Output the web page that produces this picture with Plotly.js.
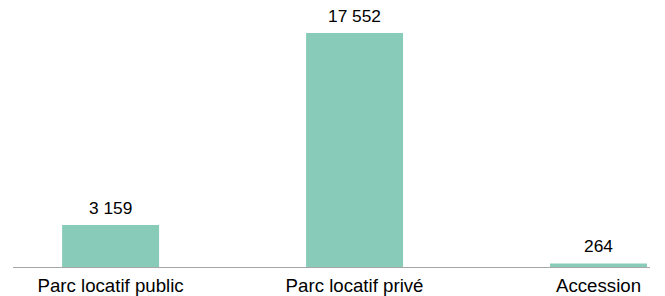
<!DOCTYPE html>
<html>
<head>
<meta charset="utf-8">
<script src="https://cdn.plot.ly/plotly-3.0.1.min.js"></script>
<style>html,body{margin:0;padding:0;background:#fff;}#chart{width:665px;height:296px;}</style>
</head>
<body>
<div id="chart"></div>
<script>
const categories = ["Parc locatif public", "Parc locatif privé", "Accession"];
const values = [3159, 17552, 264];
const valueLabels = ["3 159", "17 552", "264"];

const barColor = "#89cbb9";
const font = "Arial, 'Liberation Sans', sans-serif";

const trace = {
  type: "bar",
  x: categories,
  y: values,
  marker: {color: barColor},
  hoverinfo: "none"
};

const annotations = categories.map((c, i) => ({
  x: c, y: values[i], xref: "x", yref: "y",
  text: valueLabels[i], showarrow: false,
  yanchor: "bottom", yshift: 5,
  font: {family: font, size: 17.33, color: "#000"}
}));

const layout = {
  width: 665, height: 296,
  margin: {l: 13, r: 15, t: 0, b: 29, pad: 0},
  paper_bgcolor: "#fff", plot_bgcolor: "#fff",
  showlegend: false,
  bargap: 0.6025,
  xaxis: {
    type: "category",
    range: [-0.4, 2.211],
    showline: true, linecolor: "#a6a6a6", linewidth: 1,
    showgrid: false, zeroline: false,
    ticks: "",
    ticklabelstandoff: 2,
    tickfont: {family: font, size: 18.67, color: "#000"},
    fixedrange: true
  },
  yaxis: {
    range: [0, 20028],
    visible: false,
    showgrid: false, zeroline: false,
    fixedrange: true
  },
  annotations: annotations,
  font: {family: font}
};

Plotly.newPlot("chart", [trace], layout, {displayModeBar: false, staticPlot: true});
</script>
</body>
</html>
